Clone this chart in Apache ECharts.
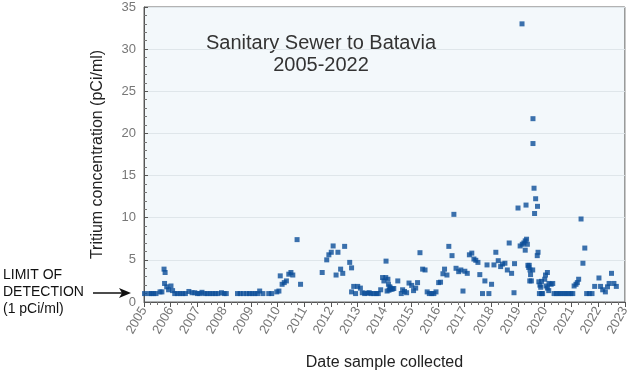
<!DOCTYPE html>
<html>
<head>
<meta charset="utf-8">
<script src="https://cdn.jsdelivr.net/npm/echarts@6/dist/echarts.min.js"></script>
<style>
  html, body { margin: 0; padding: 0; background: #fff; }
  #chart { width: 632px; height: 376px; }
</style>
</head>
<body>
<div id="chart"></div>
<script>
// sample dates as decimal years, tritium in pCi/ml
const sampleDates = [
  2005.02, 2005.2, 2005.28, 2005.36, 2005.45, 2005.6, 2005.67, 2005.75, 2005.79, 2005.77,
  2005.85, 2005.92, 2006.01, 2006.07, 2006.15, 2006.25, 2006.35, 2006.45, 2006.55, 2006.68,
  2006.8, 2006.9, 2007.0, 2007.08, 2007.17, 2007.27, 2007.37, 2007.47, 2007.57, 2007.67,
  2007.77, 2007.9, 2008.0, 2008.08,
  2008.5, 2008.6, 2008.72, 2008.85, 2008.95, 2009.05, 2009.15, 2009.25, 2009.33, 2009.45,
  2009.67, 2009.78, 2009.97, 2010.05, 2010.1, 2010.17, 2010.25, 2010.33, 2010.42, 2010.5,
  2010.57, 2010.73, 2010.86,
  2011.67, 2011.84, 2011.92, 2012.01, 2012.08, 2012.19, 2012.26, 2012.36, 2012.44, 2012.51,
  2012.7, 2012.77, 2012.77, 2012.85, 2012.92, 2013.0, 2013.1, 2013.17, 2013.26, 2013.35,
  2013.43, 2013.5, 2013.6, 2013.7, 2013.77, 2013.86, 2013.93, 2013.98, 2014.06, 2014.05,
  2014.13, 2014.15, 2014.2, 2014.25, 2014.3, 2014.17, 2014.22, 2014.35, 2014.1, 2014.5,
  2014.63, 2014.68, 2014.75, 2014.83, 2014.92, 2015.02, 2015.09, 2015.17, 2015.24, 2015.33,
  2015.43, 2015.52, 2015.6, 2015.68, 2015.77, 2015.85, 2015.93, 2016.03, 2016.1, 2016.19,
  2016.25, 2016.34, 2016.41, 2016.53, 2016.6, 2016.68, 2016.78, 2016.86, 2016.94, 2017.01,
  2017.1, 2017.18, 2017.27, 2017.35, 2017.42, 2017.5, 2017.57, 2017.67, 2017.76, 2017.84,
  2017.91, 2018.01, 2018.1, 2018.17, 2018.26, 2018.35, 2018.42, 2018.51, 2018.6, 2018.67,
  2018.76, 2018.85, 2018.87, 2019.0, 2019.08, 2019.15, 2019.16, 2019.22, 2019.27, 2019.27,
  2019.3, 2019.32, 2019.35, 2019.37, 2019.42, 2019.4, 2019.45, 2019.47, 2019.44, 2019.5,
  2019.55, 2019.56, 2019.56, 2019.6, 2019.62, 2019.66, 2019.73, 2019.72, 2019.75, 2019.78,
  2019.82, 2019.85, 2019.8, 2019.88, 2019.88, 2019.92, 2020.0, 2020.03, 2020.1, 2020.05,
  2020.1, 2020.15, 2020.16, 2020.24, 2020.3,
  2020.35, 2020.44, 2020.53, 2020.62, 2020.71, 2020.8, 2020.89, 2020.98, 2021.05,
  2021.1, 2021.17, 2021.22, 2021.27, 2021.36, 2021.43, 2021.5, 2021.57, 2021.67, 2021.77,
  2021.87, 2022.03, 2022.09, 2022.17, 2022.27, 2022.35, 2022.41, 2022.5, 2022.59, 2022.68
];
const tritium = [
  1, 1, 1, 1, 1, 1.2, 1.2, 3.9, 3.5, 2.2,
  1.8, 1.45, 1.9, 1.35, 1, 1, 1, 1, 1, 1.25,
  1.1, 1.1, 1, 1, 1.15, 1, 1, 1, 1, 1,
  1, 1.1, 1, 1,
  1, 1, 1, 1, 1, 1, 1, 1, 1.3, 1,
  1, 1, 1.2, 1.3, 3.1, 2.1, 2.3, 2.5, 3.3, 3.5,
  3.2, 7.4, 2.1,
  3.5, 5.0, 5.6, 5.9, 6.65, 3.2, 5.9, 3.9, 3.4, 6.6,
  4.7, 4.05, 1.2, 1.85, 1.0, 1.85, 1.65, 1.1, 1.0, 1.05,
  1.1, 1.0, 1.0, 1.0, 1.0, 1.45, 2.9, 2.5, 4.85, 2.9,
  2.7, 2.1, 1.8, 1.5, 1.55, 1.4, 1.65, 1.6, 1.3, 2.5,
  1.0, 1.45, 1.25, 1.1, 2.25, 1.97, 1.35, 1.65, 2.3, 5.85,
  3.9, 3.8, 1.2, 1.0, 1.0, 1.0, 1.2, 2.3, 2.35, 3.35,
  3.9, 3.2, 6.6, 5.5, 10.4, 4.0, 3.6, 3.8, 1.3, 3.65,
  3.4, 5.6, 5.8, 5.1, 4.95, 4.7, 3.25, 1.0, 2.5, 4.4,
  1.0, 2.1, 4.4, 5.9, 4.9, 4.2, 4.5, 4.6, 3.8, 7.0,
  3.4, 1.1, 4.55, 11.15, 6.65, 33.0, 6.85, 7.0, 7.25, 6.15,
  11.5, 7.45, 6.85, 4.35, 4.35, 4.1, 3.8, 3.25, 2.5, 2.5,
  3.8, 21.75, 18.8, 13.5, 10.5, 12.25, 11.35, 5.5, 5.9, 2.4,
  2.0, 1.75, 1.0, 1.0, 2.45, 1.0, 2.7, 3.2, 3.5, 1.9,
  1.65, 1.35, 2.2, 2.1, 2.2,
  1, 1, 1, 1, 1, 1, 1, 1, 1,
  1.9, 2.1, 2.3, 2.7, 9.85, 4.6, 6.4, 1, 1, 1,
  1.85, 2.85, 1.85, 1.45, 1.2, 1.8, 2.2, 3.4, 2.2, 1.85
];
const yearMin = 2005;
const yearMax = 2023;

const font = "'Liberation Sans', Arial, sans-serif";
const points = sampleDates.map((d, i) => [d, tritium[i]]);

const myChart = echarts.init(document.getElementById("chart"));

const option = {
  animation: false,
  grid: {
    left: 144,
    right: 7,
    top: 7,
    bottom: 73,
    show: true,
    backgroundColor: "#f3f8fb",
    borderColor: "#666",
    borderWidth: 1,
  },
  xAxis: {
    type: "value",
    min: yearMin,
    max: yearMax,
    interval: 1,
    name: "Date sample collected",
    nameLocation: "middle",
    nameGap: 53,
    nameTextStyle: { fontFamily: font, fontSize: 16, color: "#222" },
    axisLine: { lineStyle: { color: "#555" } },
    axisTick: { length: 5, lineStyle: { color: "#555" } },
    minorTick: { show: true, splitNumber: 4, length: 3, lineStyle: { color: "#777" } },
    splitLine: { show: false },
    axisLabel: {
      rotate: 60,
      fontFamily: font,
      fontSize: 13,
      color: "#777",
      margin: 6,
      formatter: (v) => String(v),
    },
  },
  yAxis: {
    type: "value",
    min: 0,
    max: 35,
    interval: 5,
    name: "Tritium concentration (pCi/ml)",
    nameLocation: "middle",
    nameGap: 38,
    nameTextStyle: { fontFamily: font, fontSize: 16, color: "#222" },
    axisLine: { show: true, lineStyle: { color: "#555" } },
    axisTick: { show: true, inside: true, length: 4, lineStyle: { color: "#555" } },
    minorTick: { show: true, splitNumber: 5, length: 3, lineStyle: { color: "#777" } },
    splitLine: { show: true, lineStyle: { color: "#dfe6ea" } },
    axisLabel: { fontFamily: font, fontSize: 13, color: "#777", margin: 8 },
  },
  graphic: [
    {
      type: "text",
      x: 321,
      y: 32,
      style: {
        text: "Sanitary Sewer to Batavia\n2005-2022",
        font: "20px " + font,
        fill: "#333",
        textAlign: "center",
        lineHeight: 22,
      },
    },
    {
      type: "text",
      x: 3,
      y: 267,
      style: {
        text: "LIMIT OF\nDETECTION\n(1 pCi/ml)",
        font: "14px " + font,
        fill: "#111",
        lineHeight: 17,
      },
    },
    {
      type: "line",
      shape: { x1: 93, y1: 293, x2: 126, y2: 293 },
      style: { stroke: "#111", lineWidth: 1.3 },
    },
    {
      type: "polygon",
      shape: { points: [[131, 293], [119, 288], [122, 293], [119, 298]] },
      style: { fill: "#111" },
    },
  ],
  series: [
    {
      type: "scatter",
      symbol: "rect",
      symbolSize: 5,
      itemStyle: { color: "#0b4e98" },
      data: points,
    },
  ],
};

myChart.setOption(option);
</script>
</body>
</html>
